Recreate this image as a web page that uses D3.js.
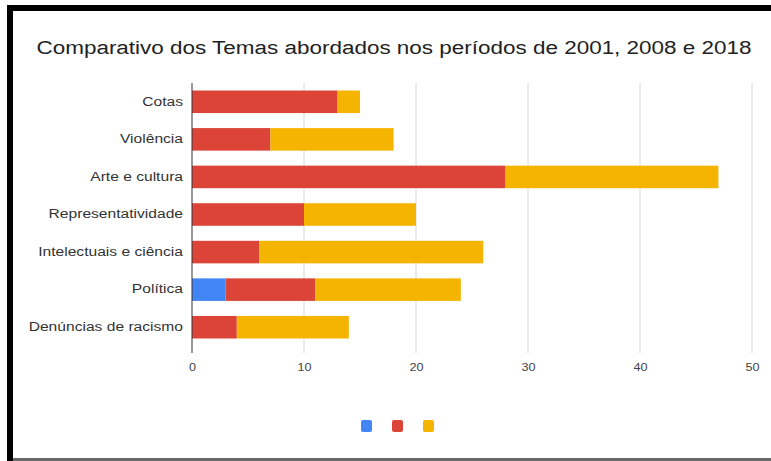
<!DOCTYPE html>
<html>
<head>
<meta charset="utf-8">
<script src="https://cdn.jsdelivr.net/npm/d3@7"></script>
<style>
  html, body { margin: 0; padding: 0; background: #fff; }
  svg { display: block; }
</style>
</head>
<body>
<svg id="chart" width="771" height="461"></svg>
<script>
// Temas por período
const categories = ["Cotas", "Violência", "Arte e cultura", "Representatividade", "Intelectuais e ciência", "Política", "Denúncias de racismo"];
const seriesKeys = ["2001", "2008", "2018"];
const values2001 = [0, 0, 0, 0, 0, 3, 0];
const values2008 = [13, 7, 28, 10, 6, 8, 4];
const values2018 = [2, 11, 19, 10, 20, 13, 10];
const tickValues = [0, 10, 20, 30, 40, 50];
const colors = ["#4285F4", "#DB4437", "#F4B400"];
const titleText = "Comparativo dos Temas abordados nos períodos de 2001, 2008 e 2018";

const rows = categories.map((c, i) => ({
  tema: c,
  "2001": values2001[i],
  "2008": values2008[i],
  "2018": values2018[i]
}));

const FONT = "Liberation Sans, Arial, sans-serif";
const WIDEN = 1.3; // wide lettering

function widen(sel, factor) {
  sel.each(function () {
    const w = this.getComputedTextLength();
    d3.select(this).attr("textLength", w * factor).attr("lengthAdjust", "spacingAndGlyphs");
  });
}

const svg = d3.select("#chart");
const W = 771, H = 461;

// frame
svg.append("rect").attr("x", 0).attr("y", 0).attr("width", W).attr("height", H).attr("fill", "#fff");
svg.append("rect").attr("x", 7).attr("y", 5).attr("width", W - 7).attr("height", 6).attr("fill", "#000");
svg.append("rect").attr("x", 7).attr("y", 5).attr("width", 6).attr("height", H - 5).attr("fill", "#000");
svg.append("rect").attr("x", 13).attr("y", 458).attr("width", W - 13).attr("height", 3).attr("fill", "#6a6a6a");

const plot = { left: 192, right: 752, top: 83, bottom: 346 };

const x = d3.scaleLinear().domain([0, 50]).range([plot.left, plot.right]);
const y = d3.scaleBand().domain(categories).range([plot.top, plot.bottom]).paddingInner(0.4).paddingOuter(0.2);

// title
svg.append("text")
  .attr("x", 394).attr("y", 54)
  .attr("text-anchor", "middle")
  .attr("font-family", FONT)
  .attr("font-size", 18)
  .attr("fill", "#222")
  .text(titleText)
  .attr("textLength", 715)
  .attr("lengthAdjust", "spacingAndGlyphs");

// grid
svg.append("g")
  .selectAll("line")
  .data(tickValues.filter(v => v > 0))
  .join("line")
  .attr("x1", d => x(d)).attr("x2", d => x(d))
  .attr("y1", plot.top).attr("y2", 353)
  .attr("stroke", "#d6d6d6").attr("stroke-width", 1);

// stacked bars
const stack = d3.stack().keys(seriesKeys)(rows);
svg.append("g")
  .selectAll("g")
  .data(stack)
  .join("g")
  .attr("fill", (d, i) => colors[i])
  .selectAll("rect")
  .data(d => d)
  .join("rect")
  .attr("x", d => x(d[0]))
  .attr("width", d => x(d[1]) - x(d[0]))
  .attr("y", d => y(d.data.tema))
  .attr("height", y.bandwidth());

// baseline
svg.append("line")
  .attr("x1", x(0)).attr("x2", x(0))
  .attr("y1", plot.top).attr("y2", 353)
  .attr("stroke", "#333").attr("stroke-width", 1);

// x axis labels
const xAxis = d3.axisBottom(x).tickValues(tickValues).tickSize(0).tickPadding(0);
const gx = svg.append("g").attr("transform", `translate(0,${363})`).call(xAxis);
gx.select(".domain").remove();
gx.selectAll("text")
  .attr("font-family", FONT)
  .attr("font-size", 11)
  .attr("fill", "#444");
widen(gx.selectAll("text"), 1.15);

// y axis labels
const yAxis = d3.axisLeft(y).tickSize(0).tickPadding(0);
const gy = svg.append("g").attr("transform", `translate(${183},0)`).call(yAxis);
gy.select(".domain").remove();
gy.selectAll("text")
  .attr("font-family", FONT)
  .attr("font-size", 12)
  .attr("fill", "#333");
widen(gy.selectAll("text"), WIDEN);

// legend swatches
const legend = svg.append("g");
legend.selectAll("rect")
  .data(seriesKeys)
  .join("rect")
  .attr("x", (d, i) => 361 + i * 31)
  .attr("y", 420)
  .attr("width", 11).attr("height", 12)
  .attr("rx", 2)
  .attr("fill", (d, i) => colors[i]);
</script>
</body>
</html>
